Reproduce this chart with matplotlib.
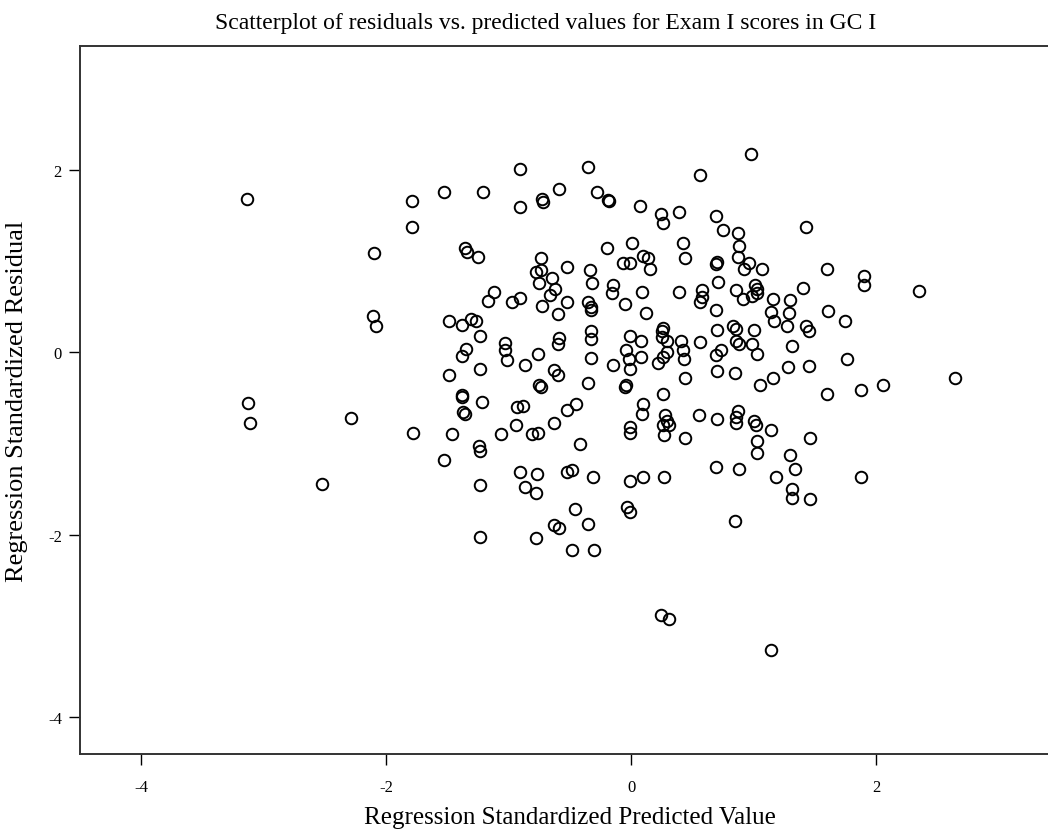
import matplotlib
matplotlib.use("Agg")
import matplotlib.pyplot as plt

# Valori (predetto standardizzato, residuo standardizzato)
predicted = [
    -3.14, -3.13, -3.11, -2.29, -2.52, -2.10, -2.11, -2.08, -1.79, -1.79,
    -1.53, -1.36, -1.34, -1.25, -1.49, -1.38, -1.31, -1.27, -1.23, -1.35,
    -1.38, -1.23, -1.49, -1.38, -1.21, -1.38, -1.37, -1.36, -1.22, -1.78,
    -1.46, -1.53, -1.24, -1.23, -1.23, -1.23,
    -0.91, -0.35, -0.91, -0.73, -0.72, -0.59, -0.28, -0.19, -0.18, 0.07,
    0.24, 0.26, 0.39, 0.56, 0.69, 0.75, -0.20, 0.01, 0.42, 0.44,
    0.69, 0.70, 0.71, -0.74, -0.78, -0.74, -0.75, -0.65, -0.62, -0.66,
    -0.52, -0.34, -0.32, -0.15, -0.16, -0.07, -0.01, 0.10, 0.14, 0.15,
    -1.12, -1.17, -0.97, -0.91, -0.73, -0.60, -0.52, -0.35, -0.33, -0.33,
    -0.05, 0.09, 0.12, 0.39, 0.58, 0.58, 0.56, 0.69, -1.03, -1.03,
    -1.01, -0.87, -0.76, -0.59, -0.60, -0.33, -0.33, -0.33, -0.63, -0.60,
    -0.75, -0.74, -0.35, -0.15, -0.01, 0.08, -0.04, -0.02, -0.01, -0.04,
    -0.05, 0.08, 0.25, 0.26, 0.29, 0.25, 0.29, 0.26, 0.22, 0.41,
    0.42, 0.43, 0.56, 0.69, 0.70, 0.44, 0.26,
    0.98, 0.87, 0.88, 0.87, 1.43, 0.96, 0.92, 1.07, 0.86, 0.91,
    1.01, 1.03, 1.03, 0.99, 1.16, 1.30, 1.40, 1.60, 1.90, 1.90,
    2.35, 1.14, 1.29, 1.17, 1.27, 1.43, 1.45, 1.61, 1.75, 0.70,
    0.83, 0.86, 0.86, 0.88, 1.00, 0.99, 1.03, 1.31, 0.73, 0.85,
    1.28, 1.45, 1.76, 1.05, 1.16, 1.60, 1.88, 2.06, 2.64,
    -0.93, -0.88, -1.06, -0.94, -0.81, -0.76, -0.63, -0.52, -0.45, -0.42,
    -0.91, -0.77, -0.87, -0.78, -0.52, -0.48, -0.31, -0.46, -0.63, -0.59,
    -0.35, -0.78, -0.48, -0.30, 0.10, 0.09, 0.28, 0.29, 0.31, 0.26,
    0.27, -0.01, -0.01, 0.44, 0.55, 0.70, 0.69, -0.01, 0.10, 0.27,
    -0.03, -0.01, 0.24, 0.31,
    0.87, 0.86, 0.86, 1.00, 1.02, 1.14, 1.46, 1.03, 1.03, 1.30,
    0.88, 1.18, 1.34, 1.31, 1.31, 1.46, 1.88, 0.85, 1.14,
]
residual = [
    1.68, -0.55, -0.77, -0.72, -1.44, 1.09, 0.40, 0.29, 1.66, 1.37,
    1.76, 1.15, 1.10, 1.05, 0.34, 0.30, 0.37, 0.35, 0.18, 0.04,
    -0.04, -0.18, -0.25, -0.47, 1.76, -0.49, -0.65, -0.67, -0.54, -0.88,
    -0.89, -1.18, -1.02, -1.08, -1.45, -2.02,
    2.01, 2.03, 1.59, 1.68, 1.65, 1.79, 1.76, 1.67, 1.66, 1.61,
    1.52, 1.42, 1.54, 1.94, 1.50, 1.34, 1.15, 1.20, 1.20, 1.03,
    0.97, 0.99, 0.77, 1.03, 0.88, 0.90, 0.76, 0.82, 0.70, 0.63,
    0.94, 0.90, 0.76, 0.74, 0.65, 0.98, 0.98, 1.06, 1.04, 0.91,
    0.66, 0.56, 0.55, 0.60, 0.51, 0.42, 0.55, 0.55, 0.50, 0.46,
    0.53, 0.66, 0.43, 0.66, 0.68, 0.61, 0.55, 0.46, 0.10, 0.03,
    -0.08, -0.14, -0.02, 0.16, 0.09, 0.23, 0.15, -0.06, -0.19, -0.25,
    -0.36, -0.38, -0.34, -0.14, 0.18, 0.13, 0.03, -0.07, -0.18, -0.36,
    -0.38, -0.05, 0.24, 0.27, 0.13, 0.17, 0.00, -0.05, -0.12, 0.13,
    0.03, -0.07, 0.11, -0.03, -0.20, -0.28, -0.46,
    2.18, 1.31, 1.17, 1.05, 1.38, 0.98, 0.92, 0.91, 0.68, 0.59,
    0.74, 0.70, 0.65, 0.62, 0.59, 0.58, 0.71, 0.92, 0.84, 0.74,
    0.67, 0.44, 0.43, 0.34, 0.29, 0.29, 0.23, 0.45, 0.35, 0.25,
    0.29, 0.26, 0.13, 0.09, 0.25, 0.09, -0.02, 0.07, 0.03, -0.22,
    -0.16, -0.15, -0.07, -0.36, -0.28, -0.46, -0.41, -0.36, -0.28,
    -0.60, -0.59, -0.89, -0.80, -0.89, -0.88, -0.77, -0.63, -0.56, -1.00,
    -1.31, -1.33, -1.47, -1.54, -1.31, -1.29, -1.37, -1.72, -1.89, -1.92,
    -1.88, -2.03, -2.17, -2.17, -0.56, -0.67, -0.69, -0.75, -0.80, -0.80,
    -0.90, -0.82, -0.88, -0.94, -0.68, -0.73, -1.25, -1.41, -1.36, -1.36,
    -1.69, -1.75, -2.88, -2.92,
    -0.64, -0.71, -0.77, -0.75, -0.80, -0.85, -0.94, -0.97, -1.10, -1.12,
    -1.28, -1.37, -1.28, -1.50, -1.59, -1.61, -1.37, -1.85, -3.26,
]

plt.rcParams['font.family'] = ['Liberation Serif', 'DejaVu Serif']
plt.rcParams['axes.unicode_minus'] = False

fig = plt.figure(figsize=(10.48, 8.37), dpi=100)
ax = fig.add_axes([0.0763, 0.098, 0.935, 0.846])

ax.plot(predicted, residual, 'o', markersize=8.3, markerfacecolor='none',
        markeredgecolor='black', markeredgewidth=1.4)

ax.set_xlim(-4.5, 3.5)
ax.set_ylim(-4.4, 3.36)
ax.set_xticks([-4, -2, 0, 2])
ax.set_yticks([-4, -2, 0, 2])
ax.tick_params(direction='out', length=8, width=1, labelsize=12)
ax.tick_params(axis='x', pad=10)
ax.tick_params(axis='y', pad=5)

for s in ax.spines.values():
    s.set_color('#333333')
    s.set_linewidth(1.4)

ax.set_title("Scatterplot of residuals vs. predicted values for Exam I scores in GC I",
             fontsize=17, pad=13, x=0.475)
ax.set_xlabel("Regression Standardized Predicted Value", fontsize=18, labelpad=8)
ax.set_ylabel("Regression Standardized Residual", fontsize=19, labelpad=14)

plt.savefig("out.png", dpi=100)
plt.close()
